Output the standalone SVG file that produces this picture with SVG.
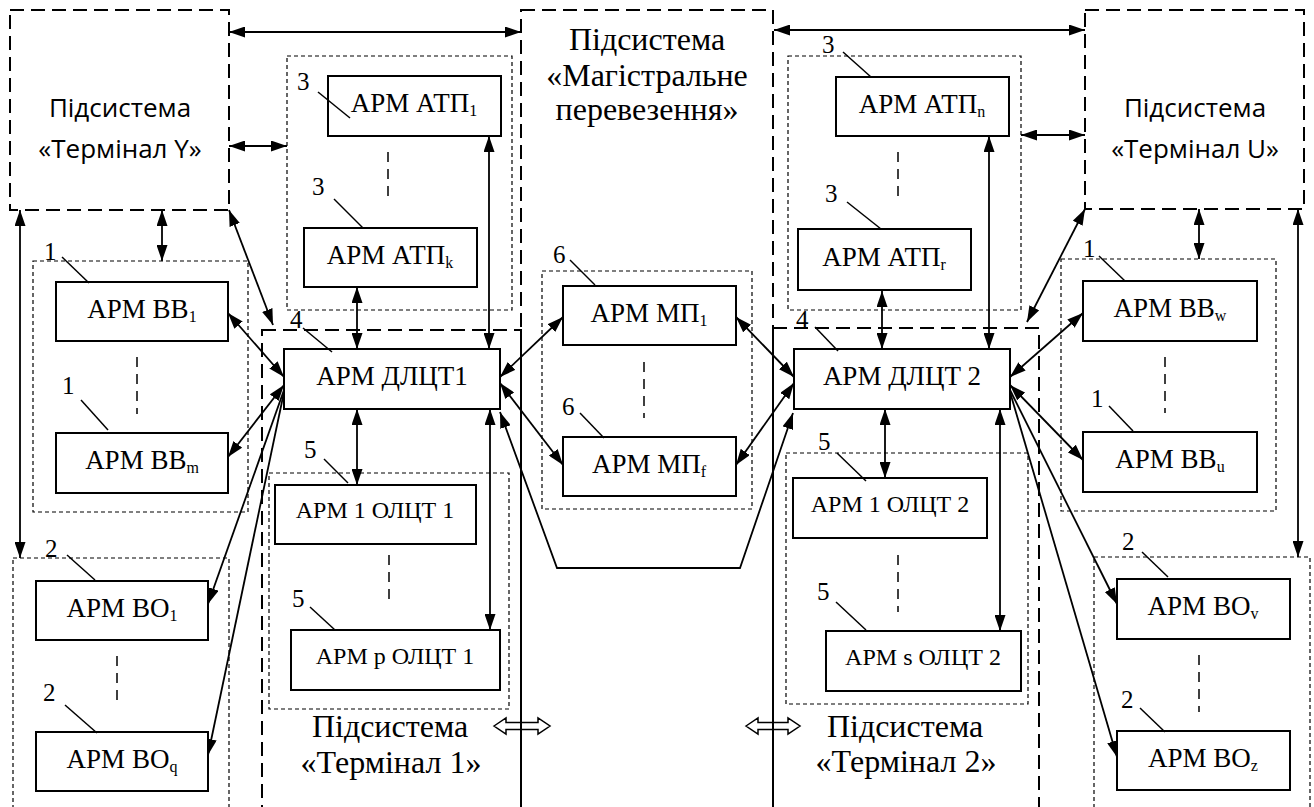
<svg xmlns="http://www.w3.org/2000/svg" width="1314" height="807" viewBox="0 0 1314 807">
<defs>
<marker id="ah" viewBox="0 0 16 11" refX="16" refY="5.5" markerWidth="16" markerHeight="11" markerUnits="userSpaceOnUse" orient="auto-start-reverse"><path d="M0,0 L16,5.5 L0,11 z" fill="#000"/></marker>
<style>
.sub{stroke:#000;stroke-width:2;stroke-dasharray:14 7;fill:none}
.grp{stroke:#000;stroke-width:1.2;stroke-dasharray:4 3;fill:none}
.box{stroke:#000;stroke-width:2;fill:#fff}
.ell{stroke:#000;stroke-width:1.5;stroke-dasharray:10 7;fill:none}
.ld{stroke:#000;stroke-width:1.5;fill:none}
.c{stroke:#000;stroke-width:1.8;fill:none}
.d{marker-start:url(#ah);marker-end:url(#ah)}
.s{marker-end:url(#ah)}
.lb{font-size:27px;fill:#000;text-anchor:middle}
.lb2{font-size:24px;fill:#000;text-anchor:middle}
.n{font-size:25px;fill:#000}
.big{font-size:32px;fill:#000;text-anchor:middle}
.sans{font-family:"Open Sans","Noto Sans",sans-serif;font-size:26px;fill:#000;text-anchor:middle}
.sb{font-size:16px}
.hol{stroke:#000;stroke-width:1.5;fill:none}
</style>
</defs>

<g id="diagram" font-family="'Liberation Serif', 'Times New Roman', serif">
<g id="subsystems">
<g id="term-y"><rect class="sub" x="10" y="10" width="219" height="200"/>
<text class="sans" x="120" y="117">Підсистема</text><text class="sans" x="120" y="158">«Термінал Y»</text></g>
<g id="term-u"><rect class="sub" x="1085" y="10" width="219" height="199"/>
<text class="sans" x="1195" y="117">Підсистема</text><text class="sans" x="1195" y="158">«Термінал U»</text></g>
<g id="magistral"><rect class="sub" x="521" y="10" width="252" height="820"/>
<text class="big" x="647" y="50">Підсистема</text><text class="big" x="647" y="86">«Магістральне</text><text class="big" x="647" y="120">перевезення»</text></g>
<g id="term-1"><rect class="sub" x="262" y="330" width="259" height="500"/>
<text class="big" x="390" y="737">Підсистема</text><text class="big" x="391" y="773">«Термінал 1»</text></g>
<g id="term-2"><rect class="sub" x="773" y="328" width="266" height="500"/>
<text class="big" x="905" y="737">Підсистема</text><text class="big" x="906" y="772">«Термінал 2»</text></g>
</g>

<g id="groups">
<rect class="grp" x="287" y="56" width="225" height="254"/>
<rect class="grp" x="788" y="56" width="233" height="254"/>
<rect class="grp" x="33" y="261" width="215" height="251"/>
<rect class="grp" x="1061" y="259" width="215" height="252"/>
<rect class="grp" x="13" y="558" width="216" height="270"/>
<rect class="grp" x="1094" y="557" width="216" height="270"/>
<rect class="grp" x="269" y="473" width="240" height="236"/>
<rect class="grp" x="786" y="453" width="242" height="251"/>
<rect class="grp" x="542" y="271" width="210" height="238"/>
</g>

<g id="ellipses">
<line class="ell" x1="388" y1="152" x2="388" y2="202"/>
<line class="ell" x1="898" y1="152" x2="898" y2="202"/>
<line class="ell" x1="137" y1="357" x2="137" y2="414"/>
<line class="ell" x1="1165" y1="357" x2="1165" y2="413"/>
<line class="ell" x1="117" y1="656" x2="117" y2="705"/>
<line class="ell" x1="1199" y1="655" x2="1199" y2="712"/>
<line class="ell" x1="389" y1="555" x2="389" y2="603"/>
<line class="ell" x1="898" y1="555" x2="898" y2="612"/>
<line class="ell" x1="644" y1="362" x2="644" y2="418"/>
</g>

<g id="connectors">
<line class="c d" x1="229" y1="32" x2="521" y2="32"/>
<line class="c d" x1="774" y1="30" x2="1085" y2="30"/>
<line class="c d" x1="229" y1="146" x2="287" y2="146"/>
<line class="c d" x1="1021" y1="135" x2="1085" y2="135"/>
<line class="c d" x1="162" y1="210" x2="162" y2="261"/>
<line class="c d" x1="1199" y1="209" x2="1199" y2="259"/>
<line class="c d" x1="20" y1="210" x2="20" y2="558"/>
<line class="c d" x1="1298" y1="209" x2="1298" y2="557"/>
<line class="c d" x1="229" y1="210" x2="273" y2="325"/>
<line class="c d" x1="1085" y1="209" x2="1027" y2="322"/>
<line class="c d" x1="489" y1="136" x2="489" y2="349"/>
<line class="c d" x1="357" y1="287" x2="357" y2="349"/>
<line class="c d" x1="989" y1="136" x2="989" y2="349"/>
<line class="c d" x1="882" y1="291" x2="882" y2="349"/>
<line class="c d" x1="228" y1="313" x2="284" y2="377"/>
<line class="c d" x1="228" y1="457" x2="284" y2="385"/>
<line class="c s" x1="284" y1="390" x2="208" y2="604"/>
<line class="c s" x1="284" y1="392" x2="208" y2="755"/>
<line class="c d" x1="500" y1="377" x2="563" y2="317"/>
<line class="c d" x1="500" y1="383" x2="563" y2="465"/>
<line class="c d" x1="736" y1="317" x2="794" y2="377"/>
<line class="c d" x1="736" y1="465" x2="794" y2="383"/>
<polyline class="c d" points="500,412 557,568 740,568 793,413"/>
<line class="c d" x1="357" y1="409" x2="357" y2="485"/>
<line class="c d" x1="490" y1="409" x2="490" y2="630"/>
<line class="c d" x1="885" y1="409" x2="885" y2="478"/>
<line class="c d" x1="1000" y1="409" x2="1000" y2="631"/>
<line class="c d" x1="1083" y1="313" x2="1010" y2="377"/>
<line class="c d" x1="1010" y1="385" x2="1083" y2="460"/>
<line class="c s" x1="1010" y1="390" x2="1117" y2="604"/>
<line class="c s" x1="1010" y1="392" x2="1117" y2="757"/>
<polygon class="hol" points="494,726 506,718 506,722.5 538,722.5 538,718 550,726 538,734 538,729.5 506,729.5 506,734"/>
<polygon class="hol" points="746,726 758,718 758,722.5 788,722.5 788,718 800,726 788,734 788,729.5 758,729.5 758,734"/>
</g>

<g id="nodes">
<g id="atp1"><rect class="box" x="328" y="76" width="173" height="60"/><text class="lb" x="414" y="112">АРМ АТП<tspan class="sb" dy="4">1</tspan></text></g>
<g id="atpk"><rect class="box" x="304" y="228" width="173" height="59"/><text class="lb" x="390" y="264">АРМ АТП<tspan class="sb" dy="4">k</tspan></text></g>
<g id="atpn"><rect class="box" x="836" y="77" width="173" height="59"/><text class="lb" x="922" y="113">АРМ АТП<tspan class="sb" dy="4">n</tspan></text></g>
<g id="atpr"><rect class="box" x="798" y="229" width="173" height="61"/><text class="lb" x="884" y="266">АРМ АТП<tspan class="sb" dy="4">r</tspan></text></g>
<g id="bb1"><rect class="box" x="56" y="282" width="172" height="59"/><text class="lb" x="142" y="318">АРМ ВВ<tspan class="sb" dy="4">1</tspan></text></g>
<g id="bbm"><rect class="box" x="56" y="433" width="172" height="60"/><text class="lb" x="142" y="469">АРМ ВВ<tspan class="sb" dy="4">m</tspan></text></g>
<g id="bbw"><rect class="box" x="1083" y="281" width="174" height="60"/><text class="lb" x="1170" y="317">АРМ ВВ<tspan class="sb" dy="4">w</tspan></text></g>
<g id="bbu"><rect class="box" x="1083" y="432" width="174" height="60"/><text class="lb" x="1170" y="468">АРМ ВВ<tspan class="sb" dy="4">u</tspan></text></g>
<g id="bo1"><rect class="box" x="36" y="581" width="172" height="59"/><text class="lb" x="122" y="617">АРМ ВО<tspan class="sb" dy="4">1</tspan></text></g>
<g id="boq"><rect class="box" x="36" y="732" width="172" height="59"/><text class="lb" x="122" y="768">АРМ ВО<tspan class="sb" dy="4">q</tspan></text></g>
<g id="bov"><rect class="box" x="1117" y="579" width="173" height="60"/><text class="lb" x="1203" y="615">АРМ ВО<tspan class="sb" dy="4">v</tspan></text></g>
<g id="boz"><rect class="box" x="1117" y="731" width="173" height="59"/><text class="lb" x="1203" y="767">АРМ ВО<tspan class="sb" dy="4">z</tspan></text></g>
<g id="dlct1"><rect class="box" x="284" y="349" width="216" height="60"/><text class="lb" x="392" y="385">АРМ ДЛЦТ1</text></g>
<g id="dlct2"><rect class="box" x="794" y="349" width="216" height="60"/><text class="lb" x="902" y="385">АРМ ДЛЦТ 2</text></g>
<g id="olct1-1"><rect class="box" x="275" y="485" width="201" height="59"/><text class="lb2" x="375" y="518">АРМ 1 ОЛЦТ 1</text></g>
<g id="olct1-p"><rect class="box" x="291" y="630" width="209" height="60"/><text class="lb2" x="395" y="664">АРМ p ОЛЦТ 1</text></g>
<g id="olct2-1"><rect class="box" x="793" y="478" width="194" height="60"/><text class="lb2" x="890" y="512">АРМ 1 ОЛЦТ 2</text></g>
<g id="olct2-s"><rect class="box" x="826" y="631" width="195" height="60"/><text class="lb2" x="923" y="665">АРМ s ОЛЦТ 2</text></g>
<g id="mp1"><rect class="box" x="563" y="286" width="173" height="59"/><text class="lb" x="649" y="322">АРМ МП<tspan class="sb" dy="4">1</tspan></text></g>
<g id="mpf"><rect class="box" x="563" y="437" width="173" height="59"/><text class="lb" x="649" y="473">АРМ МП<tspan class="sb" dy="4">f</tspan></text></g>
</g>

<g id="labels">
<text class="n" x="44" y="260">1</text><line class="ld" x1="62" y1="257" x2="89" y2="283"/>
<text class="n" x="62" y="394">1</text><line class="ld" x1="81" y1="400" x2="108" y2="430"/>
<text class="n" x="45" y="557">2</text><line class="ld" x1="67" y1="555" x2="95" y2="580"/>
<text class="n" x="43" y="701">2</text><line class="ld" x1="65" y1="705" x2="97" y2="733"/>
<text class="n" x="297" y="90">3</text><line class="ld" x1="318" y1="92" x2="350" y2="118"/>
<text class="n" x="312" y="195">3</text><line class="ld" x1="334" y1="199" x2="363" y2="228"/>
<text class="n" x="290" y="328">4</text><line class="ld" x1="303" y1="328" x2="332" y2="352"/>
<text class="n" x="304" y="458">5</text><line class="ld" x1="324" y1="459" x2="348" y2="483"/>
<text class="n" x="292" y="607">5</text><line class="ld" x1="310" y1="607" x2="335" y2="630"/>
<text class="n" x="553" y="263">6</text><line class="ld" x1="570" y1="260" x2="595" y2="285"/>
<text class="n" x="562" y="415">6</text><line class="ld" x1="580" y1="413" x2="604" y2="438"/>
<text class="n" x="822" y="53">3</text><line class="ld" x1="843" y1="52" x2="871" y2="77"/>
<text class="n" x="825" y="202">3</text><line class="ld" x1="847" y1="202" x2="881" y2="229"/>
<text class="n" x="796" y="328">4</text><line class="ld" x1="815" y1="327" x2="838" y2="351"/>
<text class="n" x="818" y="450">5</text><line class="ld" x1="837" y1="453" x2="866" y2="481"/>
<text class="n" x="817" y="600">5</text><line class="ld" x1="836" y1="602" x2="866" y2="630"/>
<text class="n" x="1083" y="257">1</text><line class="ld" x1="1099" y1="256" x2="1125" y2="281"/>
<text class="n" x="1091" y="407">1</text><line class="ld" x1="1109" y1="406" x2="1133" y2="431"/>
<text class="n" x="1122" y="550">2</text><line class="ld" x1="1142" y1="552" x2="1168" y2="577"/>
<text class="n" x="1121" y="708">2</text><line class="ld" x1="1140" y1="708" x2="1165" y2="732"/>
</g>
</g>
</svg>
